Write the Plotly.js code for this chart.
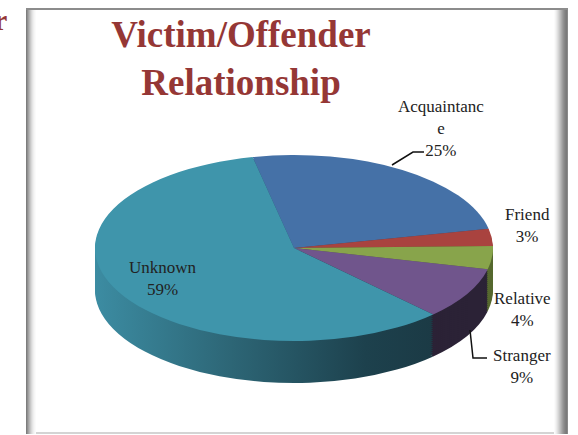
<!DOCTYPE html>
<html><head><meta charset="utf-8">
<script src="https://cdn.plot.ly/plotly-3.0.1.min.js"></script>
<style>html,body{margin:0;padding:0;background:#fff}#chart{width:578px;height:435px}</style>
</head><body><div id="chart"></div>
<script>
// ---- data ----
const categories = ['Acquaintance', 'Friend', 'Relative', 'Stranger', 'Unknown'];
const shares = [25, 3, 4, 9, 59];
const topColors = ['#4571A7', '#A9433F', '#88A44B', '#70558C', '#3F95AB'];
const sideColors = ['#2C4A70', '#6E2A28', '#56692F', '#2B2236', '#2A6373'];
const chartTitle = 'Victim/Offender<br>Relationship';

// ---- layout geometry ----
const W = 578, H = 435;
const cx = 294, cy = 248, rx = 199, ry = 93, depth = 42, step = 2;
const squash = ry / rx;
const rotation = -12;
const dom = {x: [(cx - rx) / W, (cx + rx) / W], y: [(H / 2 - rx) / H, (H / 2 + rx) / H]};
const px = x => x / W, py = y => 1 - y / H;

function pieTrace(colors) {
  return {type: 'pie', labels: categories, values: shares, sort: false,
    direction: 'clockwise', rotation: rotation,
    marker: {colors: colors, line: {width: 0}},
    textinfo: 'none', hoverinfo: 'skip', showlegend: false, domain: dom};
}
const data = [], offsets = [];
for (let k = depth; k > 0; k -= step) { data.push(pieTrace(sideColors)); offsets.push(k); }
data.push(pieTrace(topColors)); offsets.push(0);

const total = shares.reduce((a, b) => a + b, 0);
function wrapLabel(t) { return t.length > 11 ? t.slice(0, 11) + '<br>' + t.slice(11) : t; }
const labelPos = [[441, 128], [527, 225.5], [522, 309.5], [522, 366.5], [163, 278.5]];
const annotations = categories.map((c, i) => ({
  xref: 'paper', yref: 'paper', x: px(labelPos[i][0]), y: py(labelPos[i][1]),
  xanchor: 'center', yanchor: 'middle', showarrow: false,
  text: wrapLabel(c) + '<br>' + Math.round(shares[i] / total * 100) + '%',
  font: {family: 'Liberation Serif', size: 17, color: '#222'}
}));
annotations.push({xref: 'paper', yref: 'paper', x: px(9), y: py(20), xanchor: 'right', yanchor: 'middle',
  showarrow: false, text: '<b>r</b>', font: {family: 'Liberation Serif', size: 30, color: '#953735'}});

const shapes = [];
function rect(x0, y0, x1, y1, color) {
  shapes.push({type: 'rect', xref: 'paper', yref: 'paper', x0: px(x0), x1: px(x1), y0: py(y1), y1: py(y0),
    fillcolor: color, line: {width: 0}, layer: 'below'});
}
const leftBevel = ['#7d7d7d', '#909090', '#a3a3a3', '#b6b6b6', '#c8c8c8', '#d8d8d8', '#e5e5e5', '#efefef', '#f6f6f6', '#fbfbfb'];
leftBevel.forEach((c, i) => rect(26 + i, 10, 27 + i, 434, c));
const rightBevel = ['#fbfbfb', '#f4f4f4', '#ebebeb', '#e0e0e0', '#d4d4d4', '#c7c7c7', '#b9b9b9', '#ababab', '#9d9d9d', '#919191', '#878787', '#7f7f7f', '#7a7a7a', '#8a8a8a'];
rightBevel.forEach((c, i) => rect(554 + i, 10, 555 + i, 434, c));
rect(26, 8, 568, 10, '#8c8c8c');
rect(36, 432, 554, 434, '#d4d4d4');
function leader(pts) {
  shapes.push({type: 'path', xref: 'paper', yref: 'paper',
    path: 'M' + pts.map(p => px(p[0]) + ',' + py(p[1])).join(' L'),
    line: {color: '#111', width: 1.5}});
}
leader([[392, 165], [413, 152], [424, 152]]);
leader([[470, 330], [473, 358], [487, 358]]);

const layout = {
  width: W, height: H, margin: {l: 0, r: 0, t: 0, b: 0},
  paper_bgcolor: '#ffffff', plot_bgcolor: '#ffffff', showlegend: false,
  title: {text: '<b>' + chartTitle + '</b>', x: 241 / W, xanchor: 'center', xref: 'paper',
    y: 1 - 47 / H, yanchor: 'top', yref: 'container',
    font: {family: 'Liberation Serif', size: 37, color: '#953735'}},
  annotations: annotations, shapes: shapes
};

Plotly.newPlot('chart', data, layout, {staticPlot: true}).then(() => {
  const defs = document.querySelector('#chart .main-svg defs');
  const NS = 'http://www.w3.org/2000/svg';
  const grad = document.createElementNS(NS, 'linearGradient');
  grad.setAttribute('id', 'sideGradU');
  grad.setAttribute('x1', '0'); grad.setAttribute('x2', '1');
  grad.setAttribute('y1', '0'); grad.setAttribute('y2', '0');
  [['0', '#3c8ca2'], ['0.4', '#2d6676'], ['0.8', '#1d414d'], ['1', '#1b3a45']].forEach(s => {
    const st = document.createElementNS(NS, 'stop');
    st.setAttribute('offset', s[0]); st.setAttribute('stop-color', s[1]);
    grad.appendChild(st);
  });
  if (defs) defs.appendChild(grad);
  const traces = document.querySelectorAll('#chart .pielayer .trace');
  traces.forEach((g, i) => {
    const ty = cy + offsets[i] - squash * (H / 2);
    g.setAttribute('transform', 'translate(0,' + ty + ') scale(1,' + squash + ')');
    if (offsets[i] > 0 && defs) {
      const surf = g.querySelectorAll('path.surface');
      if (surf[4]) surf[4].style.fill = 'url(#sideGradU)';
    }
  });
});
</script>
</body></html>
